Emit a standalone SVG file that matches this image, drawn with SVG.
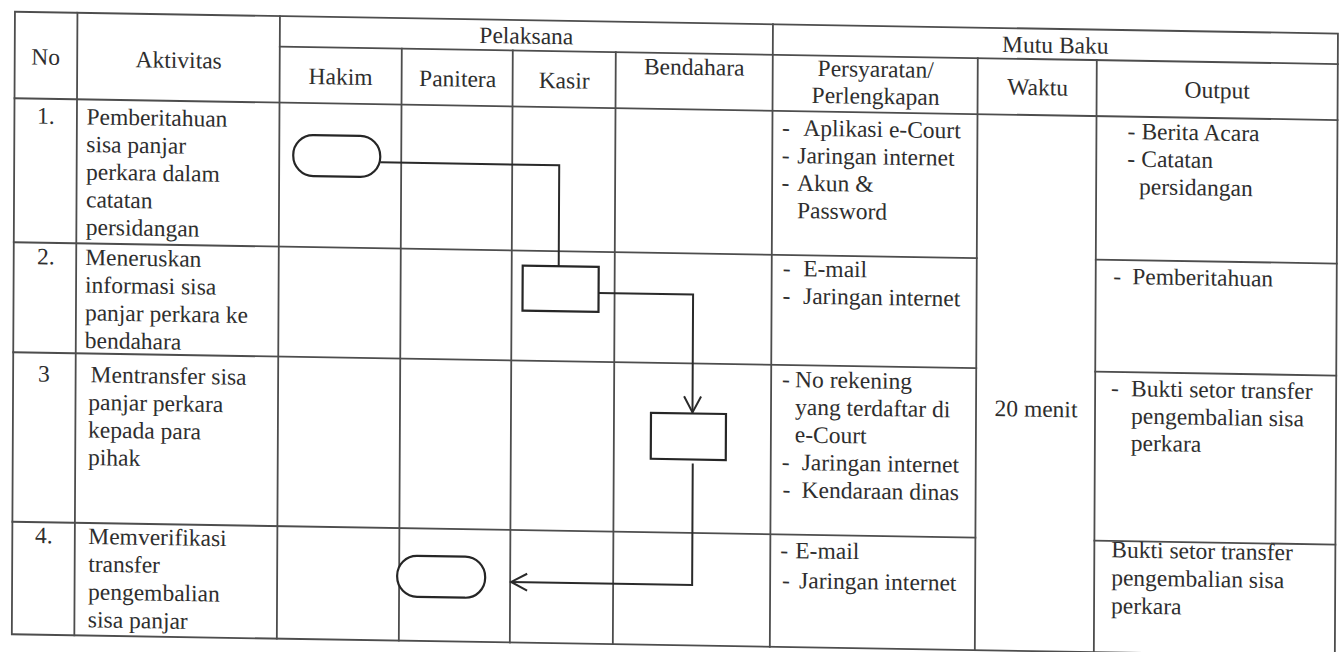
<svg xmlns="http://www.w3.org/2000/svg" width="1344" height="652" viewBox="0 0 1344 652">
<defs>
<style>
text{font-family:'Liberation Serif','DejaVu Serif',serif;font-size:23.5px;fill:#2e2e2e}
.c{text-anchor:middle}
.g{stroke:#4d4d4d;stroke-width:1.8;fill:none;stroke-linecap:square}
.n{stroke:#262626;stroke-width:2.2;fill:#ffffff}
.k{stroke:#2a2a2a;stroke-width:2;fill:none}
</style>
<marker id="open" viewBox="0 0 20 20" refX="18" refY="10" markerWidth="20" markerHeight="20" markerUnits="userSpaceOnUse" orient="auto">
<path d="M2,1.5 L18,10 L2,18.5" fill="none" stroke="#2a2a2a" stroke-width="2"/>
</marker>
</defs>
<rect width="1344" height="652" fill="#ffffff"/>
<g transform="matrix(1 0.0165 -0.005 1 0 0)" font-family="Liberation Serif, serif" font-size="23.5">
<g id="table-grid" class="g">
<path d="M15,11.5 H1338 V634 H15 Z"/>
<path d="M280,42 H1338"/>
<path d="M15,98 H1338"/>
<path d="M77.5,11.5 V634 M280,11.5 V634 M402,42 V634 M513,42 V634 M616,42 V634 M773,11.5 V634 M978,42 V634 M1097,42 V634"/>
<path d="M15,242 H978 M15,352 H978 M15,521.5 H978"/>
<path d="M1097,241.5 H1338 M1097,353.5 H1338 M1097,522.5 H1338"/>
</g>
<g id="header">
<text class="c" x="46" y="64">No</text>
<text class="c" x="179" y="65">Aktivitas</text>
<text class="c" x="526.5" y="35">Pelaksana</text>
<text class="c" x="341" y="79">Hakim</text>
<text class="c" x="458" y="79">Panitera</text>
<text class="c" x="564.5" y="79">Kasir</text>
<text class="c" x="694.5" y="63.5">Bendahara</text>
<text class="c" x="1055.5" y="35.5">Mutu Baku</text>
<text class="c" x="876" y="62.5">Persyaratan/</text>
<text class="c" x="876" y="89.5">Perlengkapan</text>
<text class="c" x="1038" y="78">Waktu</text>
<text class="c" x="1217.5" y="78">Output</text>
</g>
<g id="row-1">
<text x="37.6" y="123">1.</text>
<text x="87" y="123">Pemberitahuan</text>
<text x="87" y="150.6">sisa panjar</text>
<text x="87" y="178.2">perkara dalam</text>
<text x="87" y="205.8">catatan</text>
<text x="87" y="233.4">persidangan</text>
<text x="782.5" y="122.5">-</text><text x="804" y="122.5">Aplikasi e-Court</text>
<text x="782.5" y="150">-</text><text x="798" y="150">Jaringan internet</text>
<text x="782.5" y="177.5">-</text><text x="798" y="177.5">Akun &amp;</text>
<text x="798" y="205">Password</text>
<text x="1128" y="120.5">-</text><text x="1142" y="120.5">Berita Acara</text>
<text x="1128" y="148">-</text><text x="1142" y="148">Catatan</text>
<text x="1140" y="175.5">persidangan</text>
</g>
<g id="row-2">
<text x="38.3" y="263.5">2.</text>
<text x="86.5" y="263.5">Meneruskan</text>
<text x="86.5" y="291.2">informasi sisa</text>
<text x="86.5" y="318.9">panjar perkara ke</text>
<text x="86.5" y="346.6">bendahara</text>
<text x="784" y="263">-</text><text x="804.5" y="263">E-mail</text>
<text x="784" y="290.5">-</text><text x="804.5" y="290.5">Jaringan internet</text>
<text x="1114.5" y="265.5">-</text><text x="1133.5" y="265.5">Pemberitahuan</text>
</g>
<g id="row-3">
<text x="39.9" y="380.8">3</text>
<text x="92.5" y="380.8">Mentransfer sisa</text>
<text x="90.3" y="408.4">panjar perkara</text>
<text x="90.3" y="436">kepada para</text>
<text x="90.3" y="463.6">pihak</text>
<text x="784" y="374">-</text><text x="797" y="374">No rekening</text>
<text x="797" y="401.6">yang terdaftar di</text>
<text x="797" y="429.2">e-Court</text>
<text x="784" y="456.8">-</text><text x="804" y="456.8">Jaringan internet</text>
<text x="785" y="484.4">-</text><text x="804" y="484.4">Kendaraan dinas</text>
<text x="1113" y="377.5">-</text><text x="1133" y="377.5">Bukti setor transfer</text>
<text x="1133" y="405">pengembalian sisa</text>
<text x="1133" y="432">perkara</text>
</g>
<g id="row-4">
<text x="37.7" y="542.4">4.</text>
<text x="91" y="542.4">Memverifikasi</text>
<text x="91" y="570.2">transfer</text>
<text x="91" y="598">pengembalian</text>
<text x="91" y="625.8">sisa panjar</text>
<text x="783" y="545">-</text><text x="798" y="545">E-mail</text>
<text x="785" y="575">-</text><text x="802" y="575">Jaringan internet</text>
<text x="1114" y="539">Bukti setor transfer</text>
<text x="1114" y="567">pengembalian sisa</text>
<text x="1114" y="595">perkara</text>
</g>
<g id="waktu">
<text class="c" x="1038" y="399.6">20 menit</text>
</g>
<g id="connectors" class="k">
<path d="M381,156 H560 V257"/>
<path d="M600,283 H694.5 V401" marker-end="url(#open)"/>
<path d="M695,452 V573.5 H514" marker-end="url(#open)"/>
</g>
<g id="node-hakim-start"><rect class="n" x="294" y="130" width="87" height="41" rx="20"/></g>
<g id="node-kasir"><rect class="n" x="524" y="257" width="76" height="45"/></g>
<g id="node-bendahara"><rect class="n" x="653" y="402" width="75" height="46"/></g>
<g id="node-panitera-end"><rect class="n" x="400" y="549" width="88" height="41" rx="20"/></g>
</g>
</svg>
